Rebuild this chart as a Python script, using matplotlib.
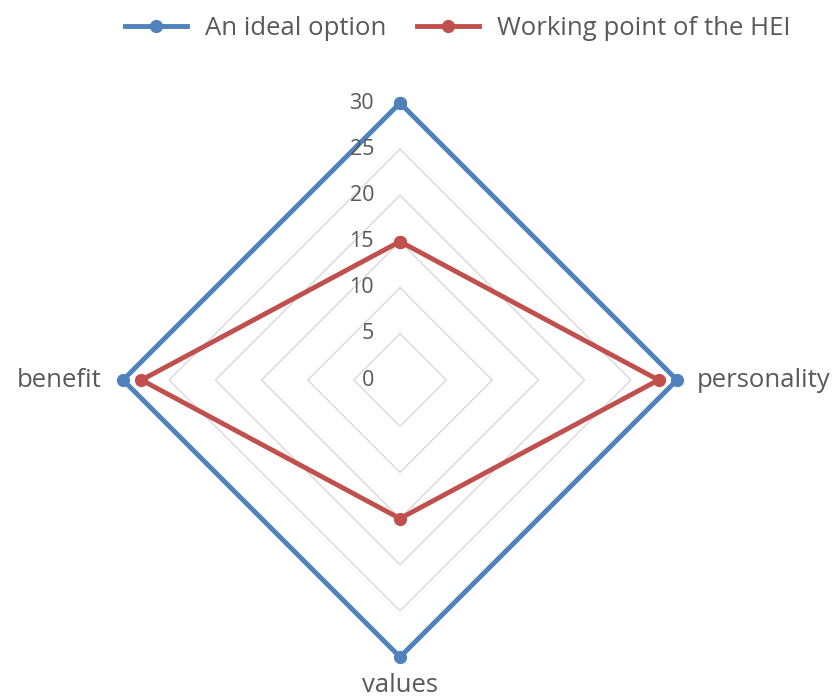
import numpy as np
import matplotlib
matplotlib.use('Agg')
import matplotlib.pyplot as plt
from matplotlib.transforms import offset_copy

categories = ['', 'personality', 'values', 'benefit']
ideal = [30, 30, 30, 30]
working = [15, 28, 15, 28]
ticks = [0, 5, 10, 15, 20, 25, 30]

BLUE = '#4F81BD'
RED = '#C0504D'
TEXT = '#595959'

plt.rcParams['font.family'] = ['Open Sans', 'DejaVu Sans']

fig = plt.figure(figsize=(8.35, 7), dpi=100)
ax = fig.add_axes([0.1473, 0.0614, 0.6635, 0.7914], projection='polar')
ax.set_theta_offset(np.pi / 2)
ax.set_theta_direction(-1)
ax.set_ylim(0, 30)
ax.axis('off')

angles = np.linspace(0, 2 * np.pi, len(categories), endpoint=False)
closed = np.append(angles, angles[0])

# grid rings as diamonds
for t in ticks[1:]:
    ax.plot(closed, [t] * len(closed), color='#d9d9d9', lw=1, zorder=1)

def close(v):
    return v + v[:1]

ax.plot(closed, close(ideal), color=BLUE, lw=3.5, marker='o', ms=8.5,
        label='An ideal option', zorder=3, clip_on=False)
ax.plot(closed, close(working), color=RED, lw=3.5, marker='o', ms=8.5,
        label='Working point of the HEI', zorder=4, clip_on=False)

# radial tick labels along the top axis
lab_tr = offset_copy(ax.transData, fig=fig, x=-26, y=0, units='dots')
for t in ticks:
    ax.text(0, t, str(t), transform=lab_tr, ha='right', va='center',
            fontsize=15.5, color=TEXT)

# category labels
offsets = [(0, 20, 'center', 'bottom'), (20, 0, 'left', 'center'),
           (0, -28, 'center', 'center'), (-22, 0, 'right', 'center')]
for ang, name, (dx, dy, ha, va) in zip(angles, categories, offsets):
    tr = offset_copy(ax.transData, fig=fig, x=dx, y=dy, units='dots')
    ax.text(ang, 30, name, transform=tr, ha=ha, va=va, fontsize=18.5, color=TEXT)

leg = fig.legend(loc='upper center', bbox_to_anchor=(0.548, 1.01), ncol=2,
                 frameon=False, handlelength=2.4, fontsize=18.5, columnspacing=1.2,
                 handletextpad=0.7)
for txt in leg.get_texts():
    txt.set_color(TEXT)

fig.savefig('out.png', dpi=100)
